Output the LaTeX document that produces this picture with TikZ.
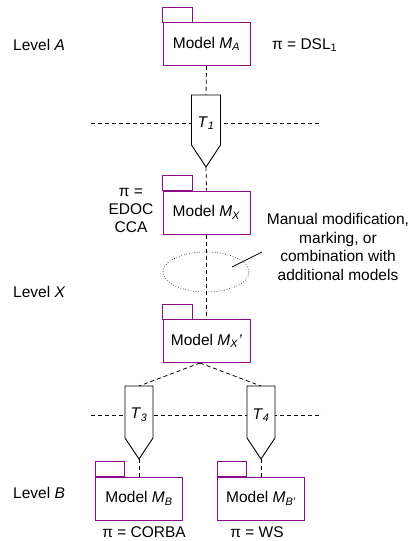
\documentclass[tikz,border=0pt]{standalone}
\usepackage{fontspec}
\setmainfont{Liberation Sans}
\usetikzlibrary{shapes.geometric}
\definecolor{pkg}{RGB}{140,10,140}
\tikzset{
  model/.style={draw=pkg, line width=1pt, minimum width=87pt, minimum height=43pt, inner sep=0pt, fill=white, font=\fontsize{15.5}{18}\selectfont},
  tab/.style={draw=pkg, line width=1pt},
  lbl/.style={inner sep=0pt, font=\fontsize{15.5}{18.6}\selectfont},
  conn/.style={dash pattern=on 4pt off 3pt, line width=0.8pt},
  trans/.style={draw, line width=0.9pt, fill=white},
  lev/.style={lbl, anchor=west},
}
\begin{document}
\begin{tikzpicture}[x=1pt,y=-1pt]
\useasboundingbox (0,0) rectangle (412,541);
% horizontal level separators
\coordinate (H1l) at (91,123); \coordinate (H1r) at (322,123);
\coordinate (H2l) at (91,415); \coordinate (H2r) at (322,415);
\draw[conn] (H1l) -- (H1r);
\draw[conn] (H2l) -- (H2r);
% models
\node[model] (MA) at (206.5,44) {Model \textit{M}\textsubscript{\textit{A}}};
\draw[tab] (MA.north west) rectangle ++(30,-15);
\node[model] (MX) at (206.5,212.5) {Model \textit{M}\textsubscript{\textit{X}}};
\draw[tab] (MX.north west) rectangle ++(30,-15);
\node[model] (MXp) at (206.5,341) {Model \textit{M}\textsubscript{\textit{X}}\textit{’}};
\draw[tab] (MXp.north west) rectangle ++(30,-15);
\node[model] (MB) at (139,498.5) {Model \textit{M}\textsubscript{\textit{B}}};
\draw[tab] (MB.north west) rectangle ++(29,-15);
\node[model] (MBp) at (261,498.5) {Model \textit{M}\textsubscript{\textit{B’}}};
\draw[tab] (MBp.north west) rectangle ++(29,-15);
% transformations
\draw[trans] (191.5,95) -- (220.5,95) -- (220.5,145) -- (206,167) -- (191.5,145) -- cycle;
\node[lbl] (T1) at (206,123) {\textit{T}\textsubscript{\textit{1}}};
\coordinate (T1top) at (206,95); \coordinate (T1tip) at (206,167);
\draw[trans] (125,386) -- (153,386) -- (153,438) -- (139,459) -- (125,438) -- cycle;
\node[lbl] (T3) at (139,415) {\textit{T}\textsubscript{\textit{3}}};
\coordinate (T3top) at (139,386); \coordinate (T3tip) at (139,459);
\draw[trans] (247,386) -- (275,386) -- (275,438) -- (261,459) -- (247,438) -- cycle;
\node[lbl] (T4) at (261,415) {\textit{T}\textsubscript{\textit{4}}};
\coordinate (T4top) at (261,386); \coordinate (T4tip) at (261,459);
% ellipse
\node[draw, dotted, line width=0.6pt, ellipse, minimum width=86pt, minimum height=40pt, inner sep=0pt] (E) at (206,272) {};
% connectors
\draw[conn] (MA.south) -- (T1top);
\draw[conn] (T1tip) -- (MX.north);
\draw[conn] (MX.south) -- (MXp.north);
\coordinate (MXpb) at (200,363);
\draw[conn] (MXpb) -- (T3top);
\draw[conn] (MXpb) -- (T4top);
\draw[conn] (T3tip) -- (MB.north);
\draw[conn] (T4tip) -- (MBp.north);
\coordinate (S1) at (232,267); \coordinate (S2) at (262,252);
\draw[line width=0.8pt] (S1) -- (S2);
% labels
\node[lev] (LA) at (13,45) {Level \textit{A}};
\node[lev] (LX) at (13,292) {Level \textit{X}};
\node[lev] (LB) at (13,493) {Level \textit{B}};
\node[lev] (PA) at (272,45) {π = DSL\textsubscript{1}};
\node[lbl, align=center, font=\fontsize{15.5}{18}\selectfont] (PX) at (131,210) {π =\\EDOC\\CCA};
\node[lbl, align=center] (MAN) at (338,247) {Manual modification,\\marking, or\\combination with\\additional models};
\node[lbl] (PB) at (144,532) {π = CORBA};
\node[lbl] (PBp) at (257,532) {π = WS};
\end{tikzpicture}
\end{document}
